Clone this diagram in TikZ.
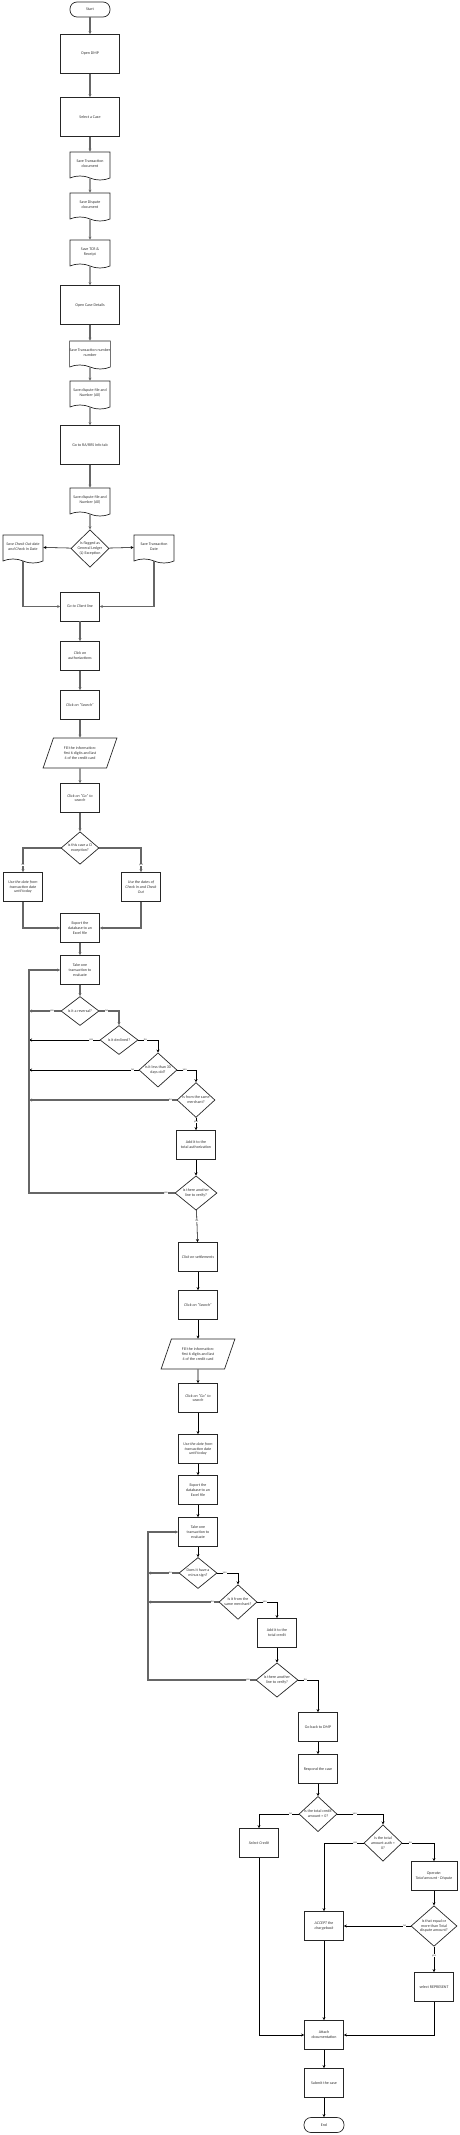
\documentclass[tikz,border=0pt]{standalone}
\usepackage{fontspec}
\setmainfont{Carlito}
\usepackage{tikz}
\usetikzlibrary{shapes.geometric, shapes.symbols, arrows.meta, positioning, calc}

\begin{document}
\begin{tikzpicture}[
  x=1pt, y=-1pt,
  font=\fontsize{4}{4.8}\selectfont, text=black!80,
  term/.style={rectangle, draw=black!85, line width=0.7pt, rounded corners=7pt,
               minimum width=40pt, minimum height=15pt, inner sep=0pt},
  proc/.style={rectangle, draw=black!85, line width=0.7pt, minimum width=39pt,
               minimum height=29pt, inner sep=0pt, align=center},
  bigproc/.style={proc, minimum width=59pt, minimum height=39pt},
  docu/.style={tape, tape bend top=none, tape bend bottom=out and in, tape bend height=4pt,
               draw=black!85, line width=0.7pt, minimum width=40pt, minimum height=28pt,
               inner sep=0pt, align=center},
  dec/.style={diamond, draw=black!85, line width=0.7pt, minimum width=38pt,
              minimum height=29pt, inner sep=0pt, align=center},
  io/.style={trapezium, trapezium left angle=63, trapezium right angle=117,
             trapezium stretches=true, draw=black!85, line width=0.7pt,
             minimum width=74pt, minimum height=30pt, inner sep=0pt, align=center},
  garr/.style={-{Stealth[length=3pt,width=3pt]}, draw=black!60, line width=1.1pt},
  arr/.style={-{Stealth[length=3pt,width=3pt]}, draw=black, line width=0.55pt},
  lbl/.style={fill=white, inner sep=0.3pt, font=\fontsize{2.8}{3}\selectfont}
]
  \useasboundingbox (0,0) rectangle (459,2135);

  % opening the case
  \node[term] (start) at (90,9.5) {Start};
  \node[bigproc] (dmp) at (90,54) {Open DMP};
  \node[bigproc] (case) at (90,117) {Select a Case};
  \node[docu] (doc1) at (90,164) {Save Transaction\\document};
  \node[docu] (doc2) at (90,205) {Save Dispute\\document};
  \node[docu] (doc3) at (90,252) {Save TCR \&\\Receipt};
  \node[bigproc] (details) at (90,305) {Open Case Details};
  \node[docu] (doc4) at (90,353) {Save Transaction number\\number};
  \node[docu] (doc5) at (90,393) {Save dispute file and\\Number (All)};
  \node[bigproc] (tab) at (90,445) {Go to RA/RRS Info tab};
  \node[docu] (doc6) at (90,500) {Save dispute file and\\Number (All)};
  \node[dec] (flag) at (90,548.5) {Is flagged as\\General Ledger\\(L) Exception};
  \node[docu, font=\fontsize{4}{4.8}\itshape] (docL) at (23,547) {Save Check Out date\\and Check In Date};
  \node[docu] (docR) at (154,547) {Save Transaction\\Date};

  % authorizations
  \node[proc, font=\fontsize{4}{4.8}\itshape] (client) at (80,606.5) {Go to Client line};
  \node[proc, font=\fontsize{4}{4.8}\itshape] (auth) at (80,656) {Click on\\authorizations};
  \node[proc, font=\fontsize{4}{4.8}\itshape] (search) at (80,705) {Click on ``Search''};
  \node[io] (fill) at (80,753) {Fill the information:\\first 6 digits and last\\4 of the credit card};
  \node[proc, font=\fontsize{4}{4.8}\itshape] (go) at (80,798) {Click on ``Go'' to\\search};
  \node[dec] (ci) at (80,848) {Is this case a CI\\exception?};
  \node[proc, font=\fontsize{4}{4.8}\itshape] (dateL) at (23,887) {Use the date from\\transaction date\\until today};
  \node[proc, font=\fontsize{4}{4.8}\itshape] (dateR) at (141,887) {Use the dates of\\Check In and Check\\Out};
  \node[proc] (export) at (80,928) {Export the\\database to an\\Excel file};
  \node[proc] (take) at (80,970) {Take one\\transaction to\\evaluate};
  \node[dec] (rev) at (80,1011) {Is it a reversal?};
  \node[dec] (decl) at (119,1040) {Is it declined?};
  \node[dec] (days) at (158,1070) {Is it less than 30\\days old?};
  \node[dec] (merch) at (196,1100) {Is from the same\\merchant?};
  \node[proc] (addauth) at (196,1145) {Add it to the\\total authorization};
  \node[dec, minimum width=42pt, minimum height=32pt] (more) at (196,1193) {Is there another\\line to verify?};
  \coordinate (lp) at (29,970);

  % settlements
  \node[proc, font=\fontsize{4}{4.8}\itshape] (settle) at (198,1257) {Click on settlements};
  \node[proc, font=\fontsize{4}{4.8}\itshape] (search2) at (198,1305) {Click on ``Search''};
  \node[io] (fill2) at (198,1354) {Fill the information:\\first 6 digits and last\\4 of the credit card};
  \node[proc, font=\fontsize{4}{4.8}\itshape] (go2) at (198,1398) {Click on ``Go'' to\\search};
  \node[proc, font=\fontsize{4}{4.8}\itshape] (date2) at (198,1449) {Use the date from\\transaction date\\until today};
  \node[proc] (export2) at (198,1490) {Export the\\database to an\\Excel file};
  \node[proc] (take2) at (198,1532) {Take one\\transaction to\\evaluate};
  \node[dec] (minus) at (198,1573) {Does it have a\\minus sign?};
  \node[dec] (merch2) at (238,1602) {Is it from the\\same merchant?};
  \node[proc] (addcred) at (277,1633) {Add it to the\\total credit};
  \node[dec, minimum width=42pt, minimum height=34pt] (more2) at (277,1680) {Is there another\\line to verify?};
  \coordinate (lp2) at (148,1532);

  % response
  \node[proc] (back) at (318,1727) {Go back to DMP};
  \node[proc] (respond) at (318,1769) {Respond the case};
  \node[dec] (zero) at (318,1814) {Is the total credit\\amount = 0?};
  \node[proc, font=\fontsize{4}{4.8}\itshape] (credit) at (259,1843) {Select Credit};
  \node[dec] (auth0) at (383,1843) {Is the total\\amount auth =\\0?};
  \node[proc, minimum width=46pt, font=\fontsize{4}{4.8}\itshape] (operate) at (434,1876) {Operate:\\Total amount - Dispute};
  \node[dec, minimum width=46pt, minimum height=37pt] (equal) at (434,1926) {Is that equal or\\more than Total\\dispute amount?};
  \node[proc, font=\fontsize{4}{4.8}\itshape] (accept) at (324,1926) {ACCEPT the\\chargeback};
  \node[proc] (represent) at (434,1987) {select REPRESENT};
  \node[proc] (attach) at (324,2035) {Attach\\documentation};
  \node[proc] (submit) at (324,2083) {Submit the case};
  \node[term] (end) at (324,2125) {End};

  % connectors
  \draw[garr] (start) -- (dmp);
  \draw[garr] (dmp) -- (case);
  \draw[garr] (case) -- (doc1);
  \draw[garr] (doc1) -- (doc2);
  \draw[garr] (doc2) -- (doc3);
  \draw[garr] (doc3) -- (details);
  \draw[garr] (details) -- (doc4);
  \draw[garr] (doc4) -- (doc5);
  \draw[garr] (doc5) -- (tab);
  \draw[garr] (tab) -- (doc6);
  \draw[garr] (doc6) -- (flag);
  \draw[arr] (flag) -- (docL);
  \draw[arr] (flag) -- (docR);
  \draw[garr] (docL) |- (client);
  \draw[garr] (docR) |- (client);
  \draw[garr] (client) -- (auth);
  \draw[garr] (auth) -- (search);
  \draw[garr] (search) -- (fill);
  \draw[garr] (fill) -- (go);
  \draw[garr] (go) -- (ci);
  \draw[garr] (ci) -| node[lbl, pos=0.85]{no} (dateL);
  \draw[garr] (ci) -| node[lbl, pos=0.85]{yes} (dateR);
  \draw[garr] (dateL) |- (export);
  \draw[garr] (dateR) |- (export);
  \draw[garr] (export) -- (take);
  \draw[garr] (take) -- (rev);
  \draw[garr] (rev.west) node[lbl, left=6pt]{yes} -- (rev.west -| lp);
  \draw[garr] (rev.east) node[lbl, right=5pt]{no} -| (decl);
  \draw[arr] (decl.west) node[lbl, left=6pt]{yes} -- (decl.west -| lp);
  \draw[arr] (decl.east) node[lbl, right=5pt]{no} -| (days);
  \draw[arr] (days.west) node[lbl, left=4pt]{no} -- (days.west -| lp);
  \draw[arr] (days.east) node[lbl, right=5pt]{yes} -| (merch);
  \draw[garr] (merch.west) node[lbl, left=4pt]{no} -- (merch.west -| lp);
  \draw[arr] (merch) -- node[lbl, pos=0.35]{yes} (addauth);
  \draw[arr] (addauth) -- (more);
  \draw[garr] (more.west) node[lbl, left=6pt]{yes} -- (more.west -| lp) -- (lp) -- (take);
  \draw[arr] (more) -- node[lbl, pos=0.35]{no} (settle);

  \draw[arr] (settle) -- (search2);
  \draw[arr] (search2) -- (fill2);
  \draw[arr] (fill2) -- (go2);
  \draw[arr] (go2) -- (date2);
  \draw[arr] (date2) -- (export2);
  \draw[arr] (export2) -- (take2);
  \draw[arr] (take2) -- (minus);
  \draw[garr] (minus.west) node[lbl, left=6pt]{no} -- (minus.west -| lp2);
  \draw[arr] (minus.east) node[lbl, right=5pt]{yes} -| (merch2);
  \draw[garr] (merch2.west) node[lbl, left=4pt]{no} -- (merch2.west -| lp2);
  \draw[arr] (merch2.east) node[lbl, right=5pt]{yes} -| (addcred);
  \draw[arr] (addcred) -- (more2);
  \draw[garr] (more2.west) node[lbl, left=5pt]{yes} -- (more2.west -| lp2) -- (lp2) -- (take2);
  \draw[arr] (more2.east) node[lbl, right=5pt]{no} -| (back);

  \draw[arr] (back) -- (respond);
  \draw[arr] (respond) -- (zero);
  \draw[arr] (zero.west) node[lbl, left=6pt]{no} -| (credit);
  \draw[arr] (zero.east) node[lbl, right=15pt]{yes} -| (auth0);
  \draw[arr] (auth0.west) node[lbl, left=6pt]{yes} -| (accept);
  \draw[arr] (auth0.east) node[lbl, right=6pt]{no} -| (operate);
  \draw[arr] (operate) -- (equal);
  \draw[arr] (equal.west) node[lbl, left=4pt]{no} -- (accept);
  \draw[arr] (equal) -- node[lbl, pos=0.35]{yes} (represent);
  \draw[arr] (credit) |- (attach);
  \draw[arr] (accept) -- (attach);
  \draw[arr] (represent) |- (attach);
  \draw[arr] (attach) -- (submit);
  \draw[arr] (submit) -- (end);
\end{tikzpicture}
\end{document}
